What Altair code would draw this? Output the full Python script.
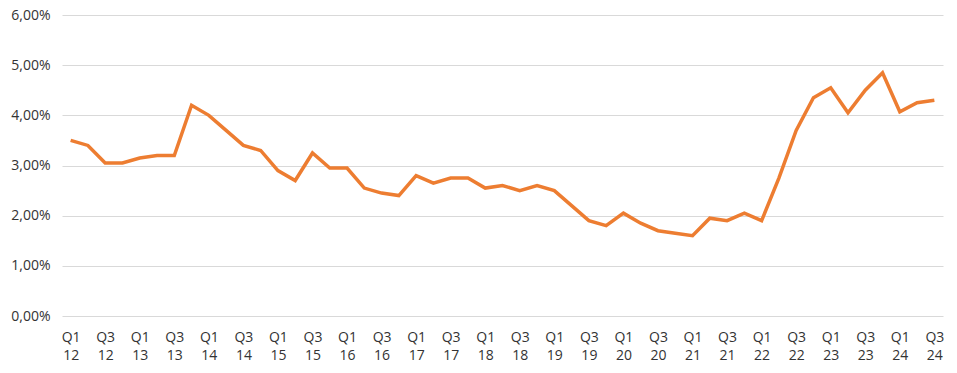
import altair as alt
import pandas as pd

years = list(range(12, 25))
quarters = [f"Q{q} {y}" for y in years for q in (1, 2, 3, 4)][:51]

rates = [
    3.50, 3.40, 3.05, 3.05,   # 2012
    3.15, 3.20, 3.20, 4.20,   # 2013
    4.00, 3.70, 3.40, 3.30,   # 2014
    2.90, 2.70, 3.25, 2.95,   # 2015
    2.95, 2.55, 2.45, 2.40,   # 2016
    2.80, 2.65, 2.75, 2.75,   # 2017
    2.55, 2.60, 2.50, 2.60,   # 2018
    2.50, 2.20, 1.90, 1.80,   # 2019
    2.05, 1.85, 1.70, 1.65,   # 2020
    1.60, 1.95, 1.90, 2.05,   # 2021
    1.90, 2.75, 3.70, 4.35,   # 2022
    4.55, 4.05, 4.50, 4.85,   # 2023
    4.07, 4.25, 4.30,         # 2024
]

y_ticks = [0, 0.01, 0.02, 0.03, 0.04, 0.05, 0.06]

df = pd.DataFrame({"quarter": quarters, "rate": [r / 100 for r in rates]})

FONT = "Open Sans"
TXT = "#333333"
FS = 14

chart = (
    alt.Chart(df)
    .mark_line(color="#ED7D31", strokeWidth=3.5, strokeJoin="miter")
    .encode(
        x=alt.X(
            "quarter:O",
            sort=quarters,
            scale=alt.Scale(type="point", padding=0.5),
            axis=alt.Axis(
                title=None,
                values=quarters[::2],
                labelExpr="split(datum.value, ' ')",
                labelAngle=0,
                labelAlign="center",
                labelBaseline="top",
                labelLineHeight=18,
                labelPadding=14,
                labelFont=FONT,
                labelFontSize=FS,
                labelColor=TXT,
                ticks=False,
                domain=False,
                grid=False,
            ),
        ),
        y=alt.Y(
            "rate:Q",
            scale=alt.Scale(domain=[0, 0.06], nice=False),
            axis=alt.Axis(
                title=None,
                values=y_ticks,
                labelExpr="replace(format(datum.value, '.2%'), '.', ',')",
                labelFont=FONT,
                labelFontSize=FS,
                labelColor=TXT,
                labelPadding=12,
                ticks=False,
                domain=False,
                gridColor="#D9D9D9",
                gridWidth=1,
            ),
        ),
    )
    .properties(
        width=881,
        height=301,
        autosize=alt.AutoSizeParams(type="none"),
        padding={"left": 54, "top": 7, "right": 6, "bottom": 50},
    )
    .configure(background="white", view=alt.ViewConfig(stroke=None))
)

chart.save("out.html", embed_options={"renderer": "svg", "actions": False})
